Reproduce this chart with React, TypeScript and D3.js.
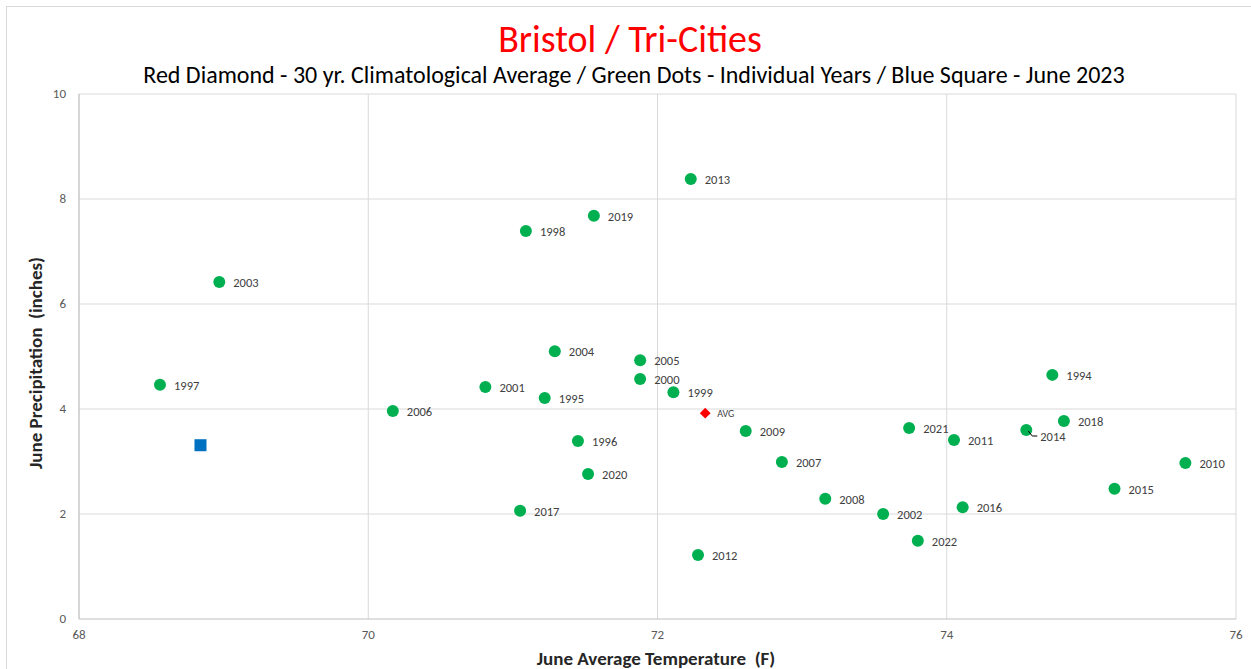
import React from "react";
import * as d3 from "d3";

const years = ["1997","2003","2006","2001","2017","1998","1995","2004","1996","2020","2019","2005","2000","1999","2013","2012","2009","2007","2008","2002","2021","2022","2011","2016","2014","1994","2018","2015","2010"];
const temps = [68.56,68.97,70.17,70.81,71.05,71.09,71.22,71.29,71.45,71.52,71.56,71.88,71.88,72.11,72.23,72.28,72.61,72.86,73.16,73.56,73.74,73.80,74.05,74.11,74.55,74.73,74.81,75.16,75.65];
const precip = [4.46,6.42,3.96,4.42,2.06,7.39,4.21,5.10,3.39,2.76,7.68,4.93,4.57,4.32,8.38,1.22,3.58,2.99,2.29,2.00,3.64,1.49,3.41,2.13,3.60,4.65,3.77,2.48,2.97];
const avgPoint = [72.33, 3.92];
const june2023 = [68.84, 3.31];
const xTicks = [68, 70, 72, 74, 76];
const yTicks = [0, 2, 4, 6, 8, 10];

const W = 1251, H = 669;
const M = { left: 79, right: 1236, top: 94, bottom: 619 };
const FONT = "Carlito, Calibri, 'Open Sans', 'Liberation Sans', sans-serif";

export default function App() {
  const x = d3.scaleLinear().domain([68, 76]).range([M.left, M.right]);
  const y = d3.scaleLinear().domain([0, 10]).range([M.bottom, M.top]);
  const diamond = d3.symbol().type(d3.symbolDiamond2).size(75)();
  return (
    <svg width={W} height={H} style={{ position: "absolute", left: 0, top: 0, background: "#fff" }} fontFamily={FONT}>
      <rect x={6.5} y={6.5} width={1260} height={670} fill="#fff" stroke="#d9d9d9" />
      {xTicks.map((t) => (
        <line key={"gx" + t} x1={x(t)} x2={x(t)} y1={M.top} y2={M.bottom} stroke="#d9d9d9" />
      ))}
      {yTicks.map((t) => (
        <line key={"gy" + t} x1={M.left} x2={M.right} y1={y(t)} y2={y(t)} stroke={t === 0 ? "#bfbfbf" : "#d9d9d9"} />
      ))}
      <line x1={M.left} x2={M.left} y1={M.top} y2={M.bottom} stroke="#bfbfbf" />
      {xTicks.map((t) => (
        <text key={"tx" + t} x={x(t)} y={639} textAnchor="middle" fontSize={13} fill="#595959">{t}</text>
      ))}
      {yTicks.map((t) => (
        <text key={"ty" + t} x={66} y={y(t) + 4} textAnchor="end" fontSize={13} fill="#595959">{t}</text>
      ))}
      <text x={630} y={52} textAnchor="middle" fontSize={38} fill="#ff0000">Bristol / Tri-Cities</text>
      <text x={634} y={83} textAnchor="middle" fontSize={24} fill="#000">Red Diamond - 30 yr. Climatological Average / Green Dots - Individual Years / Blue Square - June 2023</text>
      <text x={656} y={665} textAnchor="middle" fontSize={19} fontWeight="bold" fill="#262626">{"June Average Temperature\u00A0 (F)"}</text>
      <text transform={`translate(42,363) rotate(-90)`} textAnchor="middle" fontSize={19} fontWeight="bold" fill="#262626">{"June Precipitation\u00A0 (inches)"}</text>
      {years.map((yr, i) => {
        const cx = x(temps[i]);
        const cy = y(precip[i]);
        const is2014 = yr === "2014";
        return (
          <g key={yr}>
            <circle cx={cx} cy={cy} r={6} fill="#00b050" />
            {is2014 && <polyline points={`${cx + 2},${cy + 1} ${cx + 6},${cy + 6} ${cx + 11},${cy + 6}`} fill="none" stroke="#000" strokeWidth={1} />}
            <text x={cx + 14} y={is2014 ? cy + 11 : cy + 5} fontSize={12.5} fill="#404040">{yr}</text>
          </g>
        );
      })}
      <path d={diamond as string} transform={`translate(${x(avgPoint[0])},${y(avgPoint[1])})`} fill="#ff0000" />
      <text x={x(avgPoint[0]) + 12} y={y(avgPoint[1]) + 4} fontSize={10} fill="#404040">AVG</text>
      <rect x={x(june2023[0]) - 6} y={y(june2023[1]) - 6} width={12} height={12} fill="#0070c0" />
    </svg>
  );
}
